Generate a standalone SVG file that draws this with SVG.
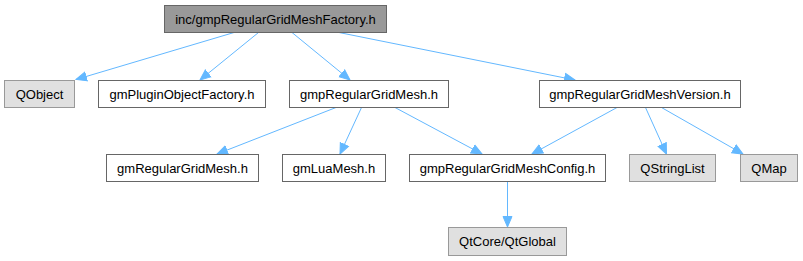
<svg xmlns="http://www.w3.org/2000/svg" width="803" height="261" viewBox="0 0 803 261">
<style>
.n rect{fill:#ffffff;stroke:#666666;stroke-width:1}
.n.ext rect{fill:#e0e0e0;stroke:#999999}
.n.root rect{fill:#999999;stroke:#666666}
.n text{font-family:"Liberation Sans",Arial,sans-serif;font-size:13px;text-anchor:middle;fill:#000000}
.e path{fill:none;stroke:#63b8ff;stroke-width:1;marker-end:url(#ah)}
</style>
<defs>
<marker id="ah" markerUnits="userSpaceOnUse" markerWidth="14" markerHeight="12" refX="11" refY="6" orient="auto" viewBox="0 0 14 12">
<path d="M0.5,1.5 L11,6 L0.5,10.5 z" fill="#63b8ff" stroke="#63b8ff" stroke-width="1"/>
</marker>
</defs>
<rect width="803" height="261" fill="#ffffff"/>
<g id="edges" class="e">
<path d="M234,32.5 L76,79.5"/>
<path d="M258.5,32.5 L200,80"/>
<path d="M292,32.5 L350,80"/>
<path d="M339,32.5 L575,80"/>
<path d="M336,107.5 L217,154"/>
<path d="M361.5,107.5 L340,154"/>
<path d="M395,107.5 L482,154"/>
<path d="M617,107.5 L532,154"/>
<path d="M645.5,107.5 L666.5,154"/>
<path d="M661.5,107.5 L743,154"/>
<path d="M507.5,181.5 L507.5,227"/>
</g>
<g id="root" class="n root"><rect x="164.5" y="5.5" width="222" height="27"/><text x="275.5" y="23.5">inc/gmpRegularGridMeshFactory.h</text></g>
<g id="qobject" class="n ext"><rect x="4.5" y="80.5" width="70" height="27"/><text x="39.5" y="98.5">QObject</text></g>
<g id="gmPluginObjectFactory" class="n"><rect x="98.5" y="80.5" width="167" height="27"/><text x="182" y="98.5">gmPluginObjectFactory.h</text></g>
<g id="gmpRegularGridMesh" class="n"><rect x="289.5" y="80.5" width="159" height="27"/><text x="369" y="98.5">gmpRegularGridMesh.h</text></g>
<g id="gmpRegularGridMeshVersion" class="n"><rect x="539.5" y="80.5" width="201" height="27"/><text x="640" y="98.5">gmpRegularGridMeshVersion.h</text></g>
<g id="gmRegularGridMesh" class="n"><rect x="106.5" y="154.5" width="152" height="27"/><text x="182.5" y="172.5">gmRegularGridMesh.h</text></g>
<g id="gmLuaMesh" class="n"><rect x="282.5" y="154.5" width="103" height="27"/><text x="334" y="172.5">gmLuaMesh.h</text></g>
<g id="gmpRegularGridMeshConfig" class="n"><rect x="409.5" y="154.5" width="196" height="27"/><text x="507.5" y="172.5">gmpRegularGridMeshConfig.h</text></g>
<g id="qstringlist" class="n ext"><rect x="629.5" y="154.5" width="86" height="27"/><text x="672.5" y="172.5">QStringList</text></g>
<g id="qmap" class="n ext"><rect x="740.5" y="154.5" width="57" height="27"/><text x="769" y="172.5">QMap</text></g>
<g id="qtglobal" class="n ext"><rect x="448.5" y="227.5" width="118" height="28"/><text x="507.5" y="246">QtCore/QtGlobal</text></g>
</svg>
